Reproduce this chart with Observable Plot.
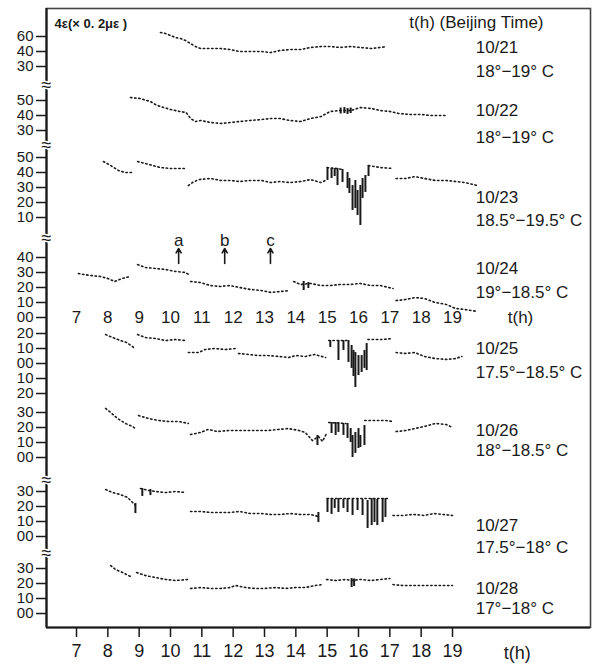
<!DOCTYPE html>
<html><head><meta charset="utf-8">
<script src="https://cdn.jsdelivr.net/npm/d3@7"></script>
<script src="https://cdn.jsdelivr.net/npm/@observablehq/plot@0.6"></script>
<style>
body{margin:0;background:#fff;}
#chart svg{display:block;}
</style>
</head><body><div id="chart"></div>
<script>
// ---------------- DATA ----------------
const hours = [7,8,9,10,11,12,13,14,15,16,17,18,19];
const days = ["10/21","10/22","10/23","10/24","10/25","10/26","10/27","10/28"];
const temps = ["18°−19° C","18°−19° C","18.5°−19.5° C","19°−18.5° C","17.5°−18.5° C","18°−18.5° C","17.5°−18° C","17°−18° C"];
const yTickValues = [[50,40,30],[50,40,30],[50,40,30,20,10],[40,30,20,10,0],[20,10,0,-10,-20],[30,20,10,0],[30,20,10,0],[30,20,10,0]];
const yTickLabels = [["60","40","30"],["50","40","30"],["50","40","30","20","10"],["40","30","20","10","00"],["20","10","00","10","20"],["30","20","10","00"],["30","20","10","00"],["30","20","10","00"]];
const unitLabel = "4ε(× 0. 2με )";
const timeTitle = "t(h) (Beijing Time)";
const hourUnit = "t(h)";

// dotted series: [t(h), value]; null = gap
const d1021 = [[9.68,52.7],[9.84,52],[10.0,50.7],[10.16,49.3],[10.32,48.7],[10.48,47.3],[10.64,45.3],[10.8,43.3],[10.96,42],[11.28,42],[11.6,42],[11.9,41.3],[12.2,40],[12.5,40],[12.9,40],[13.2,39.3],[13.5,40.7],[13.8,41.3],[14.15,41.3],[14.47,42.7],[14.8,43.3],[15.1,43.3],[15.4,42.7],[15.75,43.3],[16.06,42.7],[16.4,42],[16.7,42.7],[16.9,43.3]];
const d1022 = [[8.72,52],[9.04,51.3],[9.36,49.3],[9.52,47.3],[9.68,46],[10.0,44],[10.3,42.7],[10.5,42],[10.64,38],[10.8,36],[10.96,36.7],[11.3,35.3],[11.6,34.7],[11.9,35.3],[12.2,36],[12.55,36.7],[12.9,37.3],[13.2,38],[13.5,38],[13.8,36.7],[14.15,36],[14.47,38],[14.8,39.3],[15.1,42.7],[15.4,43.3],[15.75,43.3],[16.06,45.3],[16.4,44.7],[16.7,43.3],[17.0,42.7],[17.3,41.3],[17.66,40.7],[18.0,40.7],[18.3,40],[18.6,40],[18.8,40]];
const d1023 = [[7.86,47.3],[8.09,44.7],[8.34,41.3],[8.56,40],[8.79,40],null,[8.95,47.3],[9.2,46],[9.43,44.7],[9.68,43.3],[10.0,42.7],[10.48,42.7],null,[10.57,31.3],[10.7,33.3],[10.9,35.3],[11.28,36],[11.6,34.7],[11.9,34.7],[12.2,34],[12.55,34.7],[12.9,34.7],[13.2,33.3],[13.5,34],[13.8,33.3],[14.15,34],[14.47,35.3],[14.8,33.3],[14.95,34.7],null,[15.0,43.3],[15.3,42.7],[15.5,42],null,[16.32,44.7],[16.7,43.3],[17.1,42.7],null,[17.2,36],[17.5,36],[17.8,37.3],[18.1,36],[18.45,34.7],[18.8,34.7],[19.1,34],[19.4,33.3],[19.8,31.3]];
const d1024 = [[7.06,29.3],[7.45,28],[7.77,27.3],[8.0,26],[8.22,24],[8.45,26],[8.7,27.3],null,[8.95,35.3],[9.2,33.3],[9.52,32.7],[9.84,32],[10.16,30.7],[10.48,30],[10.57,28.7],null,[10.64,24],[10.96,23.3],[11.28,21.3],[11.6,20.7],[11.9,21.3],[12.2,20],[12.55,18.7],[12.9,18],[13.2,16.7],[13.5,17.3],[13.8,18],null,[13.93,24],[14.15,22],[14.47,22.7],[14.8,21.3],[15.1,21.3],[15.4,22],[15.75,22],[16.06,22.7],[16.4,21.3],[16.7,21.3],[17.1,19.3],null,[17.2,11.3],[17.5,12],[17.8,13.3],[18.1,12.7],[18.45,10],[18.8,8.7],[19.1,6],[19.4,5.3],[19.8,4]];
const d1025 = [[7.93,19.3],[8.15,17.3],[8.4,15.3],[8.6,14],[8.79,11.3],[8.85,10],null,[8.95,19.3],[9.2,17.3],[9.52,16.7],[9.84,15.3],[10.16,16],[10.48,15.3],null,[10.57,7.3],[10.9,7.3],[11.1,9.3],[11.4,10],[11.75,9.3],[12.07,10],null,[12.17,6.7],[12.5,6],[12.8,5.3],[13.1,5.3],[13.45,4.7],[13.77,4],[14.0,5.3],[14.3,4.7],[14.6,6],[14.95,4],null,[15.05,15.3],[15.36,15.3],[15.68,15.3],null,[16.3,16],[16.45,16],[16.77,16],[17.1,16.7],null,[17.2,7.3],[17.5,6.7],[17.8,7.3],[18.1,4.7],[18.45,3.3],[18.8,2.7],[19.1,3.3],[19.3,4.7]];
const d1026 = [[7.93,32.7],[8.09,30],[8.31,26],[8.56,22.7],[8.79,20.7],[8.88,19.3],null,[8.98,28],[9.3,26],[9.62,24.7],[9.94,24],[10.26,24],[10.57,22.7],null,[10.64,15.3],[10.96,16.7],[11.2,18.7],[11.5,17.3],[11.85,18],[12.17,18],[12.5,18],[12.8,18],[13.1,18],[13.45,18.7],[13.77,19.3],[14.1,18],[14.3,16.7],[14.53,11.3],[14.72,14],[14.85,10.7],[14.98,16],null,[15.05,23.3],[15.6,22.7],null,[16.2,24.7],[16.55,24.7],[16.85,24.7],[17.1,24],null,[17.2,17.3],[17.5,18],[17.8,19.3],[18.1,20.7],[18.45,22.7],[18.8,22],[19.0,20]];
const d1027 = [[7.93,31.3],[8.15,29.3],[8.4,28],[8.63,26],[8.79,22.7],[8.88,20.7],null,[9.04,32],[9.3,30.7],[9.52,30],[9.84,29.3],[10.16,30],[10.48,29.3],null,[10.64,16.7],[10.96,16.7],[11.28,16],[11.6,16],[11.9,16],[12.2,16.7],[12.55,15.3],[12.9,15.3],[13.2,14.7],[13.5,14.7],[13.8,15.3],[14.15,14.7],[14.47,14.7],[14.72,13.3],null,[15.0,25.3],[16.95,25.3],null,[17.1,14],[17.4,14],[17.75,14.7],[18.1,14],[18.4,15.3],[18.7,14.7],[19.0,14]];
const d1028 = [[8.09,32],[8.25,29.3],[8.47,27.3],[8.66,25.3],[8.79,24],null,[8.92,27.3],[9.2,25.3],[9.52,24],[9.84,22.7],[10.16,22],[10.57,22.7],null,[10.64,16.7],[10.96,17.3],[11.28,16.7],[11.6,16.7],[11.9,17.3],[12.07,18.7],[12.4,17.3],[12.7,16.7],[13.0,16.7],[13.35,17.3],[13.67,16.7],[14.0,17.3],[14.3,17.3],[14.63,18.7],[14.85,19.3],null,[14.98,22.7],[15.27,22],[15.6,22.7],[15.8,22],[16.06,22.7],[16.4,22],[16.7,22.7],[17.0,23.3],null,[17.1,19.3],[17.4,18.7],[17.75,18.7],[18.1,18.7],[18.4,18.7],[18.7,18.7],[19.0,18.7]];

// vertical bursts: [t(h), top value, bottom value]
const b1021 = [];
const b1022 = [[15.43,45,41],[15.55,45.3,41.3],[15.65,44.7,40.7],[15.75,45,41.3]];
const b1023 = [[15.01,43.3,34.7],[15.14,42.7,36],[15.24,42.7,37.3],[15.33,42.7,31.3],[15.49,42,33.3],[15.65,40,29.3],[15.71,36,26],[15.81,31.3,14.7],[15.9,34.7,16],[15.97,28,11.3],[16.06,31.3,4.7],[16.13,36,22.7],[16.22,38,26.7],[16.32,44.7,37.3]];
const b1024 = [[14.25,24,18],[14.4,23.3,19.3]];
const b1025 = [[15.1,15.3,10.7],[15.36,15.3,2],[15.52,15.3,8.7],[15.68,15.3,0.7],[15.78,12,-3.3],[15.84,8.7,-8.7],[15.9,7.3,-16],[16.0,5.3,-8],[16.1,5.3,-6],[16.19,8.7,-3.3],[16.26,13.3,-4.7]];
const b1026 = [[14.69,14.7,8],[15.14,23.3,16],[15.27,23.3,14.7],[15.36,23.3,16.7],[15.52,22.7,14.7],[15.65,22.7,12.7],[15.75,19.3,10],[15.81,14.7,0],[15.9,16.7,2.7],[16.0,19.3,6],[16.06,14.7,6.7],[16.19,21.3,8]];
const b1027 = [[8.88,22,15.3],[9.1,32,26.7],[9.36,31.3,27.3],[14.72,16,9.3],[15.01,25.3,16],[15.14,25.3,14.7],[15.24,24.7,18.7],[15.36,25.3,16],[15.52,24.7,18.7],[15.65,25.3,16],[15.81,24.7,14],[15.97,25.3,17.3],[16.13,24.7,14],[16.29,24,5.3],[16.42,25.3,7.3],[16.51,25.3,9.3],[16.6,24.7,7.3],[16.77,25.3,9.3],[16.86,25.3,12.7]];
const b1028 = [[15.78,23.3,17.3],[15.86,23,18]];

const arrowT = [10.26, 11.73, 13.19];
const arrowNames = ["a", "b", "c"];

// ---------------- LAYOUT ----------------
const series = [d1021,d1022,d1023,d1024,d1025,d1026,d1027,d1028];
const bursts = [b1021,b1022,b1023,b1024,b1025,b1026,b1027,b1028];
const W = 593, H = 666;
const mL = 46, mR = 3, mT = 8, mB = 39;
const xDomain = [6.0426, 23.404];
const yDomain = [26, 438.67];      // 1.5 px per unit
const offsets = [370, 327.33, 289.33, 232.67, 202, 139.33, 86.67, 35.33];
const dateV = [42.7, 43.3, 23.3, 32.7, 10, 18, 7.3, 16.7];
const tempV = [26.7, 25.3, 8, 16.7, -6, 4.7, -7.3, 3.3];
const breakG = [387.3, 347.3, 285.3, 124, 75.3];
const labelT = 19.74;
const ink = "#1a1a1a";

const pts = days.flatMap((day, i) => series[i].map(p => ({day, t: p ? p[0] : NaN, g: p ? offsets[i] + p[1] : NaN})));
const bars = days.flatMap((day, i) => bursts[i].map(b => ({day, t: b[0], g1: offsets[i] + b[1], g2: offsets[i] + b[2]})));
const ticks = days.flatMap((day, i) => yTickValues[i].map((v, j) => ({g: offsets[i] + v, label: yTickLabels[i][j]})));
const tickMap = new Map(ticks.map(d => [d.g, d.label]));
const rightLabels = days.flatMap((day, i) => [
  {t: labelT, g: offsets[i] + dateV[i], text: day},
  {t: labelT, g: offsets[i] + tempV[i], text: temps[i]}
]);
const midAxis = hours.map(h => ({t: h, g: offsets[3], text: String(h)}));
const arrows = arrowT.map((t, i) => ({t, g1: offsets[3] + 36, g2: offsets[3] + 46, gl: offsets[3] + 51.5, name: arrowNames[i]}));

const chart = Plot.plot({
  width: W, height: H,
  marginLeft: mL, marginRight: mR, marginTop: mT, marginBottom: mB,
  style: {fontFamily: "'Liberation Sans', Arial, sans-serif", background: "#fff", color: ink},
  x: {domain: xDomain},
  y: {domain: yDomain},
  marks: [
    Plot.frame({stroke: "#444", strokeWidth: 1.6}),
    Plot.ruleX([xDomain[0]], {stroke: ink, strokeWidth: 2.2}),
    Plot.ruleY([yDomain[0]], {stroke: ink, strokeWidth: 2.2}),
    Plot.axisY(ticks.map(d => d.g), {tickSize: 10, tickPadding: 3, fontSize: 15, tickFormat: d => tickMap.get(d), label: null, stroke: ink, strokeWidth: 1.5}),
    Plot.axisX(hours, {tickSize: 10, tickPadding: 7, fontSize: 18, tickFormat: d => String(d), label: null, strokeWidth: 1.5}),
    Plot.text(breakG, {x: xDomain[0], y: d => d, text: () => "≈", fontSize: 18, fill: ink, stroke: "#fff", strokeWidth: 3, paintOrder: "stroke"}),
    Plot.line(pts, {x: "t", y: "g", z: "day", stroke: ink, strokeWidth: 1.6, strokeDasharray: "1.4,2.8"}),
    Plot.ruleX(bars, {x: "t", y1: "g1", y2: "g2", stroke: ink, strokeWidth: 2}),
    Plot.arrow(arrows, {x1: "t", x2: "t", y1: "g1", y2: "g2", stroke: ink, strokeWidth: 1.6, headLength: 6}),
    Plot.text(arrows, {x: "t", y: "gl", text: "name", fontSize: 17, fill: ink}),
    Plot.text(midAxis, {x: "t", y: "g", text: "text", fontSize: 17, fill: ink}),
    Plot.text([hourUnit], {x: 21.17, y: offsets[3], text: d => d, fontSize: 17, fill: ink}),
    Plot.text([hourUnit], {x: 21.07, y: 8.67, text: d => d, fontSize: 18, fill: ink}),
    Plot.text(rightLabels, {x: "t", y: "g", text: "text", textAnchor: "start", fontSize: 17, fill: ink}),
    Plot.text([unitLabel], {frameAnchor: "top-left", dx: 8, dy: 10, text: d => d, fontSize: 13, fontWeight: "bold", fill: ink}),
    Plot.text([timeTitle], {frameAnchor: "top-right", dx: -47, dy: 7, text: d => d, fontSize: 17, fill: ink})
  ]
});
document.getElementById("chart").appendChild(chart);
</script>
</body></html>
